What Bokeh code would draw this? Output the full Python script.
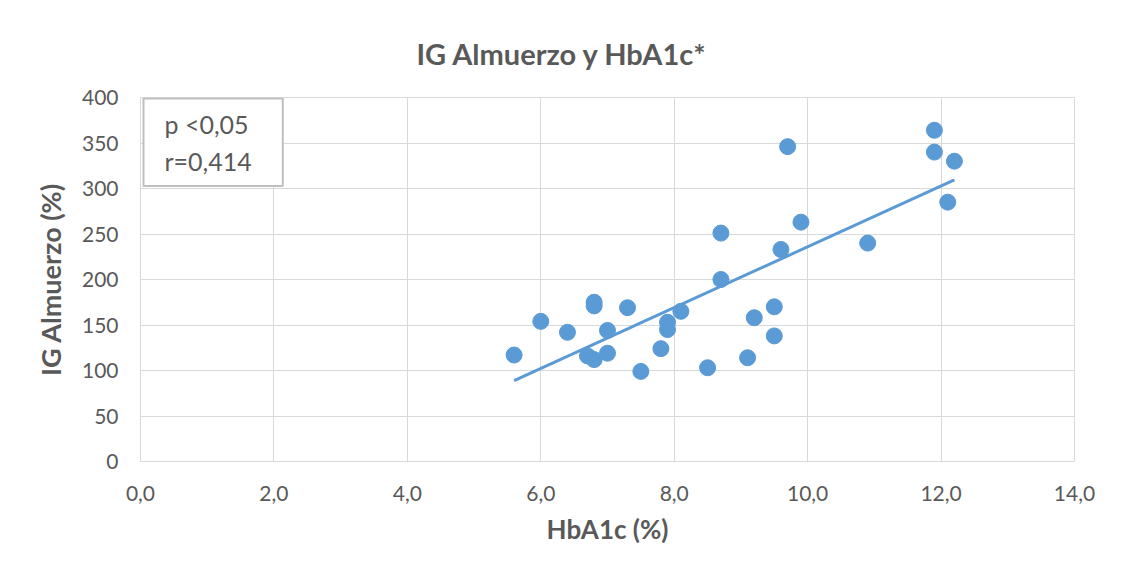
import numpy as np
from bokeh.plotting import figure
from bokeh.models import Range1d, FixedTicker, CustomJSTickFormatter, Label, ColumnDataSource
from bokeh.embed import file_html
from bokeh.resources import INLINE

# Data
hba1c = [5.6, 6.0, 6.4, 6.7, 6.8, 6.8, 6.8, 7.0, 7.0, 7.3, 7.5, 7.8, 7.9, 7.9, 8.1,
         8.5, 8.7, 8.7, 9.1, 9.2, 9.5, 9.5, 9.6, 9.7, 9.9, 10.9, 11.9, 11.9, 12.2, 12.1]
ig_almuerzo = [117, 154, 142, 116, 112, 175, 171, 144, 119, 169, 99, 124, 153, 145, 165,
               103, 251, 200, 114, 158, 138, 170, 233, 346, 263, 240, 364, 340, 330, 285]

x_ticks = [0, 2, 4, 6, 8, 10, 12, 14]
y_ticks = [0, 50, 100, 150, 200, 250, 300, 350, 400]

title_text = "IG Almuerzo y HbA1c*"
x_label = "HbA1c (%)"
y_label = "IG Almuerzo (%)"
stats_text = "p <0,05\nr=0,414"

FONT = "Lato"
GRAY = "#595959"
GRID = "#d9d9d9"
BLUE = "#5b9bd5"

p = figure(width=1105, height=564, output_backend="svg", toolbar_location=None,
           x_range=Range1d(0, 14), y_range=Range1d(0, 400),
           min_border_left=140, min_border_right=31, min_border_top=97, min_border_bottom=103)

p.title.text = title_text
p.title.text_font = FONT
p.title.text_font_size = "29px"
p.title.text_font_style = "bold"
p.title.text_color = GRAY
p.title.align = "left"
p.title.offset = 276
p.title.standoff = 54

p.outline_line_color = GRID
p.xgrid.grid_line_color = GRID
p.ygrid.grid_line_color = GRID
p.xgrid.ticker = FixedTicker(ticks=x_ticks)
p.ygrid.ticker = FixedTicker(ticks=y_ticks)

for ax in (p.xaxis[0], p.yaxis[0]):
    ax.axis_line_color = None
    ax.major_tick_line_color = None
    ax.minor_tick_line_color = None
    ax.major_tick_out = 0
    ax.major_label_text_font = FONT
    ax.major_label_text_font_size = "21px"
    ax.major_label_text_color = GRAY
    ax.axis_label_text_font = FONT
    ax.axis_label_text_font_style = "bold"
    ax.axis_label_text_color = GRAY

p.xaxis.axis_label_text_font_size = "26px"
p.yaxis.axis_label_text_font_size = "27px"
p.xaxis.ticker = FixedTicker(ticks=x_ticks)
p.yaxis.ticker = FixedTicker(ticks=y_ticks)
p.xaxis.formatter = CustomJSTickFormatter(code="return tick.toFixed(1).replace('.', ',');")
p.xaxis.axis_label = x_label
p.yaxis.axis_label = y_label
p.xaxis.major_label_standoff = 24
p.yaxis.major_label_standoff = 22
p.xaxis.axis_label_standoff = 9
p.yaxis.axis_label_standoff = 12

# Linear trend line from the data
slope, intercept = np.polyfit(hba1c, ig_almuerzo, 1)
tx = [min(hba1c), max(hba1c)]
ty = [slope * v + intercept for v in tx]
p.line(tx, ty, line_color=BLUE, line_width=3)

src = ColumnDataSource(dict(x=hba1c, y=ig_almuerzo))
p.scatter("x", "y", source=src, size=16, fill_color=BLUE, line_color=BLUE)

stats = Label(x=3, y=363, x_units="screen", y_units="screen", text=stats_text,
              anchor="top_left", text_font=FONT, text_font_size="25px", text_color=GRAY,
              border_line_color="#bfbfbf", border_line_width=2, background_fill_color="white",
              padding=(21, 31, 10, 10), text_line_height=1.25)
p.add_layout(stats)

open("out.html", "w").write(file_html(p, INLINE))
